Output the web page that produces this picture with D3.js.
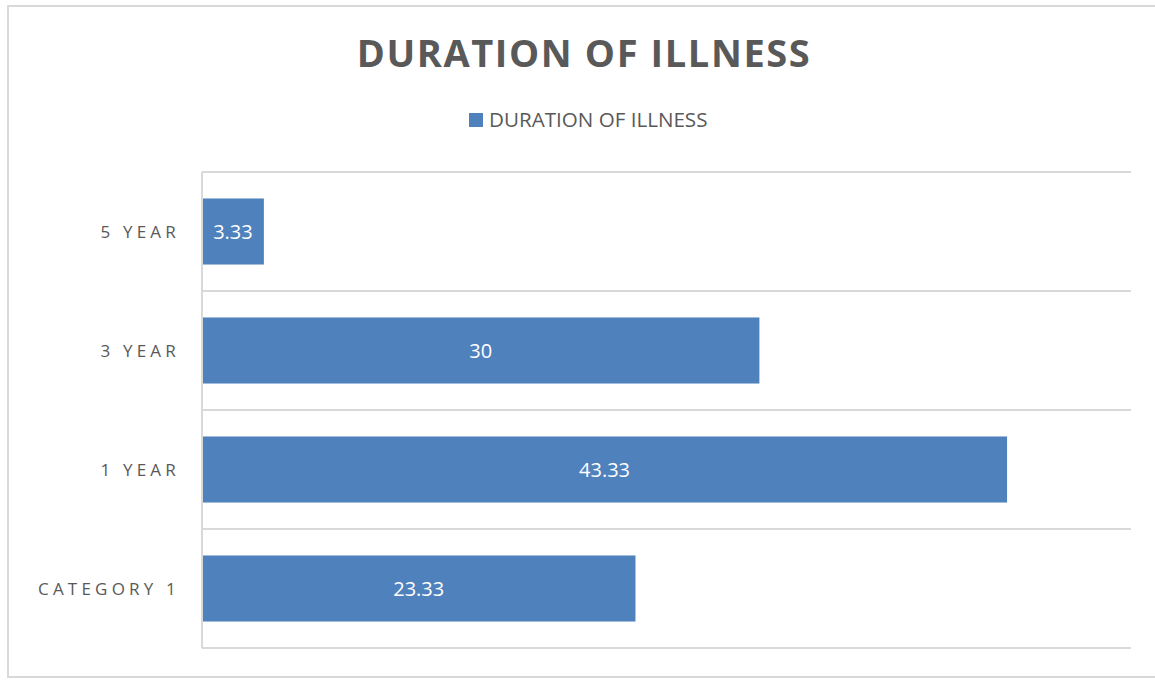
<!DOCTYPE html>
<html>
<head>
<meta charset="utf-8">
<script src="https://cdn.jsdelivr.net/npm/d3@7"></script>
<style>
  body { margin: 0; background: #fff; }
  text { font-family: "Open Sans", "Liberation Sans", sans-serif; }
</style>
</head>
<body>
<div id="chart"></div>
<script>
// data
var categories = ["CATEGORY 1", "1 YEAR", "3 YEAR", "5 YEAR"];
var values = [23.33, 43.33, 30, 3.33];
var valueLabels = ["23.33", "43.33", "30", "3.33"];
var seriesName = "DURATION OF ILLNESS";

var W = 1155, H = 680;
var plot = { left: 202, right: 1131, top: 172, bottom: 648 };

var svg = d3.select("#chart")
  .append("svg")
  .attr("width", W)
  .attr("height", H);

// chart border
svg.append("rect")
  .attr("x", 8).attr("y", 6)
  .attr("width", 1152).attr("height", 671)
  .attr("fill", "#fff")
  .attr("stroke", "#d9d9d9")
  .attr("stroke-width", 2);

var data = categories.map(function(c, i) {
  return { cat: c, value: values[i], label: valueLabels[i] };
});

// scales
var x = d3.scaleLinear()
  .domain([0, 50])
  .range([plot.left, plot.right]);

var y = d3.scaleBand()
  .domain(categories)
  .range([plot.bottom, plot.top])
  .paddingInner(0.445)
  .paddingOuter(0.2225);

var grid = d3.scaleBand()
  .domain(categories)
  .range([plot.bottom, plot.top]);

// horizontal gridlines at category boundaries
var gridYs = categories.map(function(c) { return grid(c); });
gridYs.push(plot.bottom);
svg.selectAll("line.grid")
  .data(gridYs)
  .enter()
  .append("line")
  .attr("class", "grid")
  .attr("x1", plot.left)
  .attr("x2", plot.right)
  .attr("y1", function(d) { return d; })
  .attr("y2", function(d) { return d; })
  .attr("stroke", "#d9d9d9")
  .attr("stroke-width", 2);

// bars
svg.selectAll("rect.bar")
  .data(data)
  .enter()
  .append("rect")
  .attr("class", "bar")
  .attr("x", x(0))
  .attr("y", function(d) { return y(d.cat); })
  .attr("width", function(d) { return x(d.value) - x(0); })
  .attr("height", y.bandwidth())
  .attr("fill", "#4f81bd");

// category axis
var yAxis = svg.append("g")
  .attr("transform", "translate(" + plot.left + ",0)")
  .call(d3.axisLeft(y).tickSize(0).tickPadding(22));
yAxis.select(".domain")
  .attr("stroke", "#d9d9d9")
  .attr("stroke-width", 2)
  .attr("d", "M0," + plot.top + "V" + plot.bottom);
yAxis.selectAll("text")
  .attr("dy", "0.36em")
  .style("font-size", "17px")
  .style("letter-spacing", "4.2px")
  .attr("fill", "#595959");

// value labels
svg.selectAll("text.val")
  .data(data)
  .enter()
  .append("text")
  .attr("class", "val")
  .attr("x", function(d) { return (x(0) + x(d.value)) / 2; })
  .attr("y", function(d) { return y(d.cat) + y.bandwidth() / 2; })
  .attr("dy", "0.36em")
  .attr("text-anchor", "middle")
  .attr("fill", "#fff")
  .style("font-size", "20px")
  .text(function(d) { return d.label; });

// title
svg.append("text")
  .attr("x", 584)
  .attr("y", 67)
  .attr("text-anchor", "middle")
  .attr("fill", "#595959")
  .style("font-size", "38px")
  .style("font-weight", "bold")
  .style("letter-spacing", "1.6px")
  .text(seriesName);

// legend
var legend = svg.append("g");
legend.append("rect")
  .attr("x", 469).attr("y", 113)
  .attr("width", 14).attr("height", 14)
  .attr("fill", "#4f81bd");
legend.append("text")
  .attr("x", 489)
  .attr("y", 127)
  .attr("fill", "#595959")
  .style("font-size", "20.6px")
  .text(seriesName);
</script>
</body>
</html>
